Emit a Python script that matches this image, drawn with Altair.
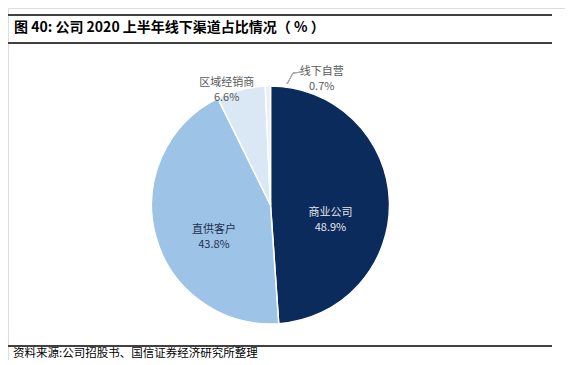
import altair as alt
import pandas as pd

categories = ["商业公司", "直供客户", "区域经销商", "线下自营"]
values = [48.9, 43.8, 6.6, 0.7]
pct_labels = ["48.9%", "43.8%", "6.6%", "0.7%"]
colors = ["#0B2B5C", "#9DC3E6", "#DAE8F6", "#EEEEEE"]

title_text = "图 40:  公司 2020 上半年线下渠道占比情况（ % ）"
source_text = "资料来源:公司招股书、国信证券经济研究所整理"

df = pd.DataFrame({
    "cat": categories,
    "value": values,
    "pct": pct_labels,
    "order": list(range(len(categories))),
})

W, H = 557, 352
CX, CY, R = 262.5, 197, 119
FONT = "Noto Sans CJK SC"

base = alt.Chart(df)

pie = base.mark_arc(radius=R, stroke="white", strokeWidth=1.5).encode(
    theta=alt.Theta("value:Q", stack=True),
    order=alt.Order("order:Q"),
    color=alt.Color("cat:N", scale=alt.Scale(domain=categories, range=colors), legend=None),
    x=alt.value(CX),
    y=alt.value(CY),
)

def label(cat, radius, dx, dy, color):
    return (
        base.transform_window(cum="sum(value)", sort=[{"field": "order"}])
        .transform_calculate(mid="datum.cum - datum.value / 2",
                             lab="[datum.cat, datum.pct]")
        .transform_filter(alt.datum.cat == cat)
        .mark_text(radius=radius, dx=dx, dy=dy, color=color, fontSize=11,
                   font=FONT, lineHeight=15, align="center", baseline="middle")
        .encode(
            theta=alt.Theta("mid:Q", stack=None, scale=alt.Scale(domain=[0, 100])),
            text="lab:N",
            x=alt.value(CX),
            y=alt.value(CY),
        )
    )

lab1 = label("商业公司", 60, 0, 10, "#E4E4E4")
lab2 = label("直供客户", 70, 11, 7, "#1F3050")
lab3 = label("区域经销商", 120, -14, -6, "#595959")
lab4 = label("线下自营", 128, 54, -5, "#595959")

def rule(x1, y1, x2, y2, color, width):
    return base.mark_rule(color=color, strokeWidth=width).encode(
        x=alt.value(x1), y=alt.value(y1), x2=alt.value(x2), y2=alt.value(y2)
    )

leader1 = rule(294, 64, 285, 65, "#A6A6A6", 1)
leader2 = rule(285, 65, 279, 76, "#A6A6A6", 1)

top_line = rule(0, 7, 544, 7, "#404040", 1.5)
mid_line = rule(0, 35, 544, 35, "#404040", 1.5)
foot_line = rule(0, 338, 544, 338, "#404040", 1.5)

title = alt.Chart(pd.DataFrame({"t": [title_text]})).mark_text(
    align="left", baseline="middle", fontSize=14, fontWeight="bold", font=FONT, color="#000000"
).encode(text="t:N", x=alt.value(6), y=alt.value(20))

source = alt.Chart(pd.DataFrame({"t": [source_text]})).mark_text(
    align="left", baseline="middle", fontSize=11.5, font=FONT, color="#000000"
).encode(text="t:N", x=alt.value(5), y=alt.value(346))

chart = alt.layer(
    pie, lab1, lab2, lab3, lab4, leader1, leader2, top_line, mid_line, foot_line, title, source
).resolve_scale(theta="independent").properties(
    width=W, height=H, padding=0, autosize=alt.AutoSizeParams(type="none")
).configure_view(stroke=None).configure(background="white")

chart.save("out.html", embed_options={"renderer": "svg", "actions": False})
